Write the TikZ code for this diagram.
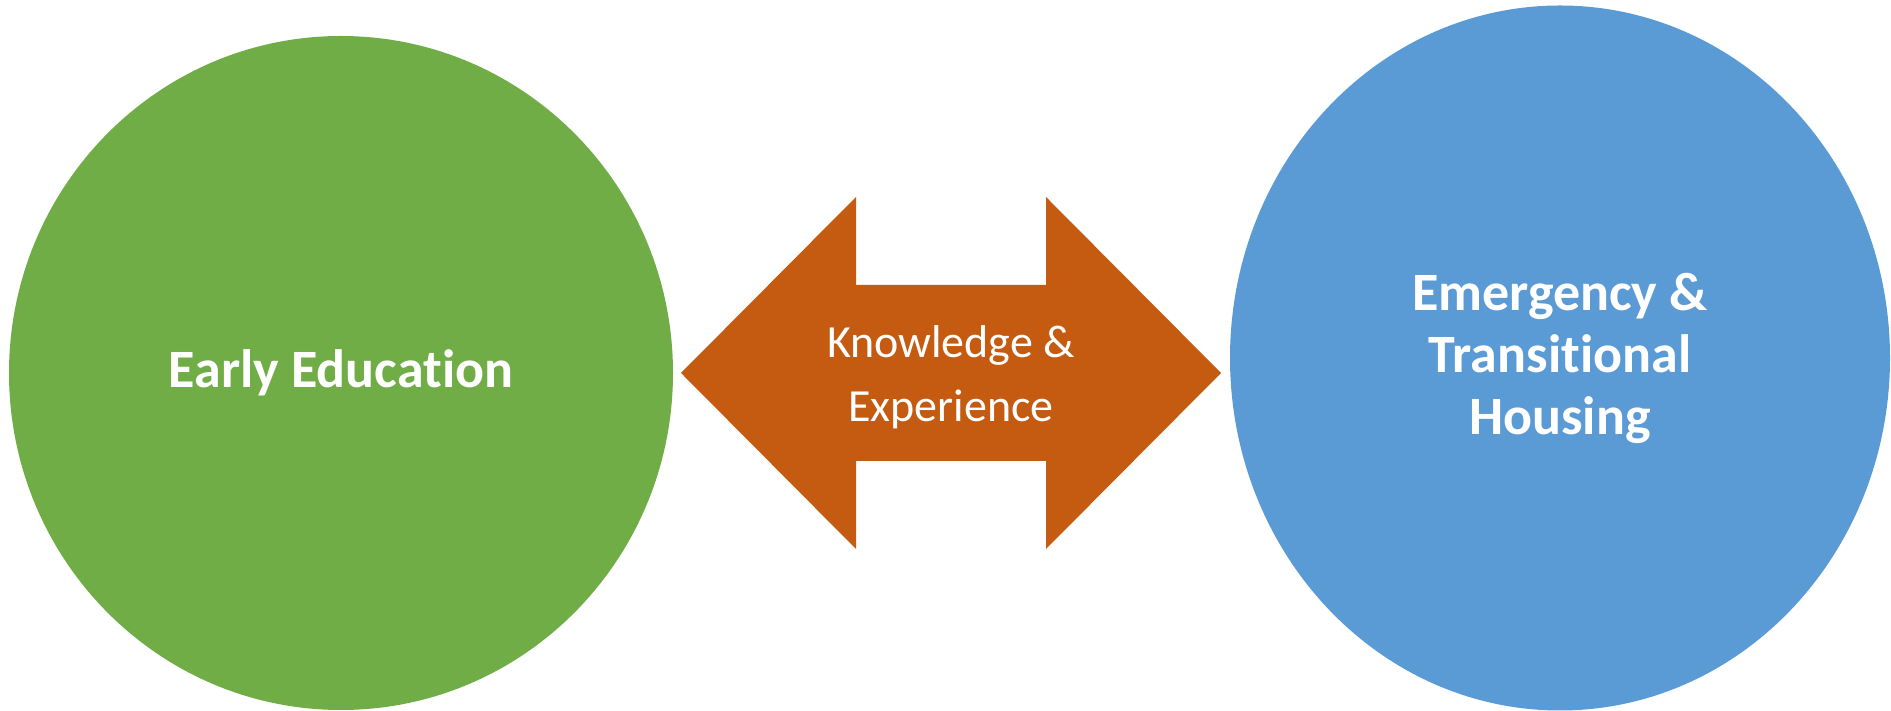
\documentclass[tikz,border=0pt]{standalone}
\usepackage{fontspec}
\setmainfont{Carlito}[Ligatures=NoCommon]
\usetikzlibrary{shapes.geometric}
\definecolor{edugreen}{HTML}{70AD47}
\definecolor{houseblue}{HTML}{5B9BD5}
\definecolor{linkorange}{HTML}{C55A11}
\tikzset{%
  bubble/.style   = {shape=ellipse, inner sep=0pt, outer sep=0pt,%
                     text=white, align=center,%
                     font=\bfseries\fontsize{54}{62}\selectfont},%
  linktext/.style = {inner sep=0pt, text=white, align=center,%
                     font=\fontsize{46}{64}\selectfont}%
}
\begin{document}
\begin{tikzpicture}[x=1pt,y=1pt]
	\useasboundingbox (0,0) rectangle (1891,711);
	% the two fields
	\node [bubble, fill=edugreen, minimum width=664, minimum height=674] (early) at (341,338) {Early Education};
	\node [bubble, fill=houseblue, minimum width=660, minimum height=705] (housing) at (1560,353) {Emergency \&\\Transitional\\Housing};
	% double arrow between them
	\fill [linkorange] (681,338) -- (856,514) -- (856,426) -- (1046,426) -- (1046,514)
		-- (1221,338) -- (1046,162) -- (1046,250) -- (856,250) -- (856,162) -- cycle;
	\node [linktext] (link) at (951,334) {Knowledge \&\\Experience};
\end{tikzpicture}
\end{document}
